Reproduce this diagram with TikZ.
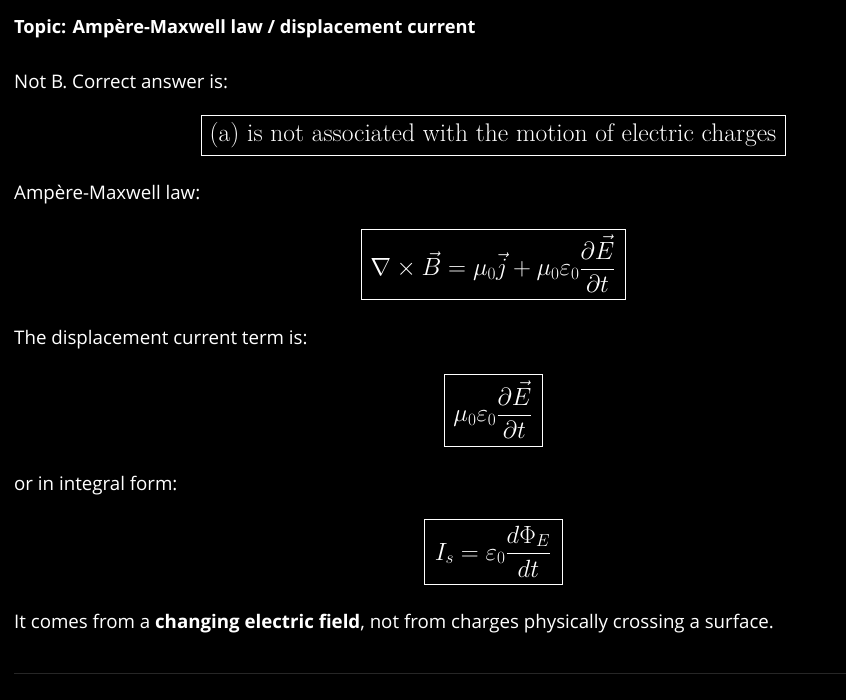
\documentclass[tikz,border=0pt]{standalone}
\usepackage{amsmath}
\usepackage{fontspec}
\setmainfont{Open Sans}
\begin{document}
\begin{tikzpicture}[x=1pt,y=-1pt,
  txt/.style={anchor=west,text=white,inner sep=0pt,font=\fontsize{18.7}{22}\selectfont},
  mbox/.style={draw=white,line width=0.8pt,text=white,inner sep=0pt,font=\fontsize{26}{30}\selectfont}]
\fill[black] (0,0) rectangle (846,700);
\useasboundingbox (0,0) rectangle (846,700);
\node[txt,font=\fontsize{18.2}{22}\selectfont\bfseries] (t) at (14,29) {Topic: Ampère-Maxwell law / displacement current};
\node[txt] (n) at (14,82) {Not B. Correct answer is:};
\node[mbox,minimum width=584pt,minimum height=40pt] (b1) at (493,135) {\fontspec{Latin Modern Roman}\fontsize{25.5}{28}\selectfont(a) is not associated with the motion of electric charges};
\node[txt] (a) at (14,195) {Ampère-Maxwell law:};
\node[mbox,minimum width=264pt,minimum height=70pt] (b2) at (493,264) {$\displaystyle \nabla\times\vec{B}=\mu_0\vec{j}+\mu_0\varepsilon_0\frac{\partial\vec{E}}{\partial t}$};
\node[txt] (d) at (14,340) {The displacement current term is:};
\node[mbox,minimum width=98pt,minimum height=72pt] (b3) at (493,410) {$\displaystyle \mu_0\varepsilon_0\frac{\partial\vec{E}}{\partial t}$};
\node[txt] (o) at (14,486) {or in integral form:};
\node[mbox,minimum width=138pt,minimum height=65pt] (b4) at (493,551.5) {$\displaystyle I_s=\varepsilon_0\frac{d\Phi_E}{dt}$};
\node[txt] (c) at (14,624) {It comes from a \textbf{changing electric field}, not from charges physically crossing a surface.};
\coordinate (l1) at (14,673); \coordinate (l2) at (846,673);
\draw[gray!30!black,line width=0.8pt] (l1) -- (l2);
\end{tikzpicture}
\end{document}
